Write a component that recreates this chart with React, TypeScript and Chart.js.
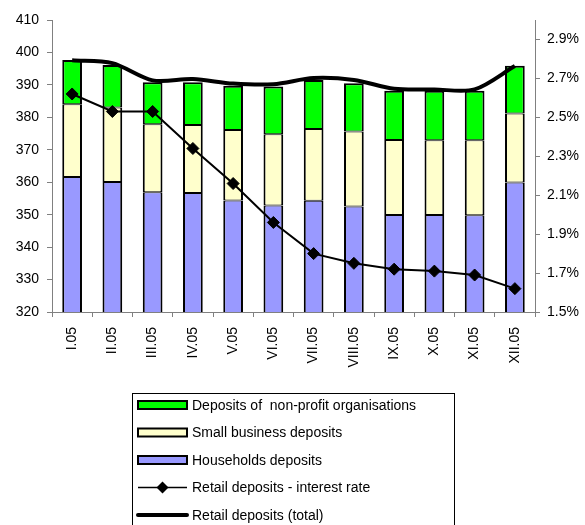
import React, { useEffect, useRef } from "react";
import { Chart, registerables } from "chart.js";

Chart.register(...registerables);

const months = ["I.05", "II.05", "III.05", "IV.05", "V.05", "VI.05", "VII.05", "VIII.05", "IX.05", "X.05", "XI.05", "XII.05"];
const households = [361.6, 360.1, 356.9, 356.7, 354.4, 352.8, 354.3, 352.5, 349.9, 349.9, 349.8, 359.9];
const smallBusiness = [22.4, 22.9, 21.0, 20.9, 21.7, 22.0, 22.1, 23.1, 23.1, 23.0, 23.1, 21.3];
const nonProfit = [13.7, 13.1, 12.9, 13.2, 13.6, 14.7, 15.1, 14.9, 15.2, 15.3, 15.3, 14.7];
const totalDeposits = [397.6, 396.7, 391.4, 391.8, 390.4, 390.2, 392.1, 391.5, 388.8, 388.6, 388.6, 395.8];
const interestRate = [2.62, 2.53, 2.53, 2.34, 2.16, 1.96, 1.80, 1.75, 1.72, 1.71, 1.69, 1.62];

const leftTicks = { min: 320, max: 410, step: 10 };
const rightRange = { min: 1.5, max: 3.0 };
const rightTickValues = [1.5, 1.7, 1.9, 2.1, 2.3, 2.5, 2.7, 2.9];

const FONT = "'Liberation Sans', Arial, sans-serif";

const legendPlugin = {
  id: "boxLegend",
  afterDraw(chart: any) {
    const ctx = chart.ctx;
    ctx.save();
    const bx = 132.5, by = 393.5, bw = 322, bh = 140;
    ctx.strokeStyle = "#000";
    ctx.lineWidth = 1;
    ctx.strokeRect(bx, by, bw, bh);
    const items = [
      { type: "bar", fill: "#00FF00", label: "Deposits of  non-profit organisations" },
      { type: "bar", fill: "#FFFFCC", label: "Small business deposits" },
      { type: "bar", fill: "#9999FF", label: "Households deposits" },
      { type: "marker", label: "Retail deposits - interest rate" },
      { type: "thick", label: "Retail deposits (total)" },
    ];
    const x0 = 138, x1 = 187;
    items.forEach((it, i) => {
      const cy = 405 + i * 27.5;
      if (it.type === "bar") {
        ctx.fillStyle = it.fill;
        ctx.fillRect(x0, cy - 4, x1 - x0, 8);
        ctx.lineWidth = 2;
        ctx.strokeStyle = "#000";
        ctx.strokeRect(x0, cy - 4, x1 - x0, 8);
      } else if (it.type === "marker") {
        ctx.lineWidth = 1.5;
        ctx.strokeStyle = "#000";
        ctx.beginPath();
        ctx.moveTo(x0, cy);
        ctx.lineTo(x1, cy);
        ctx.stroke();
        ctx.fillStyle = "#000";
        ctx.beginPath();
        const mx = (x0 + x1) / 2, r = 6;
        ctx.moveTo(mx - r, cy);
        ctx.lineTo(mx, cy - r);
        ctx.lineTo(mx + r, cy);
        ctx.lineTo(mx, cy + r);
        ctx.closePath();
        ctx.fill();
      } else {
        ctx.lineWidth = 4;
        ctx.lineCap = "round";
        ctx.strokeStyle = "#000";
        ctx.beginPath();
        ctx.moveTo(x0, cy);
        ctx.lineTo(x1, cy);
        ctx.stroke();
        ctx.lineCap = "butt";
      }
      ctx.fillStyle = "#000";
      ctx.font = `14px ${FONT}`;
      ctx.textBaseline = "middle";
      ctx.textAlign = "left";
      ctx.fillText(it.label, 192, cy + 1);
    });
    ctx.restore();
  },
};

export default function App() {
  const ref = useRef<HTMLCanvasElement>(null);
  useEffect(() => {
    if (!ref.current) return;
    const chart = new Chart(ref.current, {
      type: "bar",
      data: {
        labels: months,
        datasets: [
          {
            type: "line",
            label: "Retail deposits - interest rate",
            data: interestRate,
            yAxisID: "y1",
            borderColor: "#000",
            backgroundColor: "#000",
            borderWidth: 2,
            pointStyle: "rectRot",
            pointRadius: 6,
            pointBorderWidth: 1,
            tension: 0,
            order: 0,
          } as any,
          {
            type: "line",
            label: "Retail deposits (total)",
            data: totalDeposits,
            yAxisID: "y",
            stack: "total",
            borderColor: "#000",
            borderWidth: 4,
            pointRadius: 0,
            tension: 0.3,
            fill: false,
            order: 0,
          } as any,
          {
            label: "Households deposits",
            data: households,
            backgroundColor: "#9999FF",
            borderColor: "#000",
            borderWidth: { top: 1, bottom: 2, left: 2, right: 2 },
            borderSkipped: false,
            stack: "bars",
            yAxisID: "y",
            order: 1,
          },
          {
            label: "Small business deposits",
            data: smallBusiness,
            backgroundColor: "#FFFFCC",
            borderColor: "#000",
            borderWidth: { top: 1, bottom: 1, left: 2, right: 2 },
            borderSkipped: false,
            stack: "bars",
            yAxisID: "y",
            order: 1,
          },
          {
            label: "Deposits of  non-profit organisations",
            data: nonProfit,
            backgroundColor: "#00FF00",
            borderColor: "#000",
            borderWidth: { top: 2, bottom: 1, left: 2, right: 2 },
            borderSkipped: false,
            stack: "bars",
            yAxisID: "y",
            order: 1,
          },
        ],
      },
      options: {
        responsive: false,
        animation: false,
        categoryPercentage: 1,
        barPercentage: 0.49,
        layout: { padding: { left: 0, right: 0, top: 20, bottom: 138 } },
        plugins: { legend: { display: false }, tooltip: { enabled: false } },
        scales: {
          x: {
            stacked: true,
            offset: true,
            grid: { offset: true, drawOnChartArea: false, tickLength: 5, color: "#808080" },
            border: { color: "#808080" },
            ticks: { minRotation: 90, maxRotation: 90, padding: 10, color: "#000", font: { family: FONT, size: 14 } },
            afterFit: (s: any) => { s.height = 75; },
          },
          y: {
            stacked: true,
            position: "left",
            min: leftTicks.min,
            max: leftTicks.max,
            grid: { drawOnChartArea: false, tickLength: 5, color: "#808080" },
            border: { color: "#808080" },
            ticks: { stepSize: leftTicks.step, padding: 8, color: "#000", font: { family: FONT, size: 14 } },
            afterFit: (s: any) => { s.width = 52; },
          },
          y1: {
            position: "right",
            min: rightRange.min,
            max: rightRange.max,
            grid: { drawOnChartArea: false, tickLength: 5, color: "#808080" },
            border: { color: "#808080" },
            ticks: {
              padding: 7,
              color: "#000",
              font: { family: FONT, size: 14 },
              callback: (v: any) => Number(v).toFixed(1) + "%",
            },
            afterBuildTicks: (s: any) => { s.ticks = rightTickValues.map((v) => ({ value: v })); },
            afterFit: (s: any) => { s.width = 50; },
          },
        },
      },
      plugins: [legendPlugin],
    });
    return () => chart.destroy();
  }, []);
  return (
    <div style={{ position: "absolute", left: 0, top: 0, width: 585, height: 525, background: "#fff" }}>
      <canvas ref={ref} width={585} height={525} />
    </div>
  );
}
